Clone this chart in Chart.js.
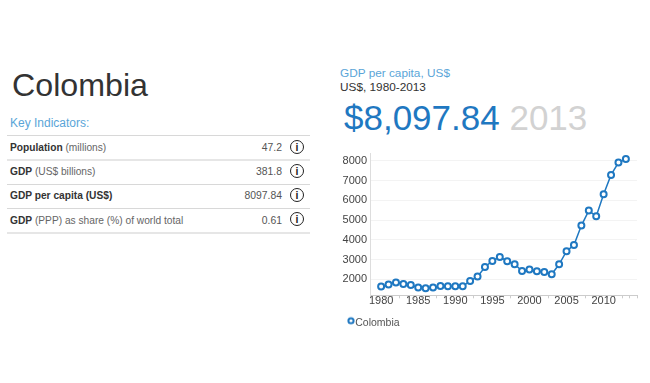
<!DOCTYPE html>
<html><head><meta charset="utf-8">
<style>
html,body{margin:0;padding:0;background:#fff;width:650px;height:383px;overflow:hidden;font-family:"Liberation Sans",Arial,sans-serif}
.t{position:absolute;white-space:nowrap}
.rule{position:absolute;left:7px;width:303px;background:#d8d8d8;height:1px}
.lab{position:absolute;left:10px;font-size:10.2px;line-height:14px;color:#666;white-space:nowrap}
.lab b{color:#333}
.val{position:absolute;right:368px;font-size:10.4px;line-height:14px;color:#555;white-space:nowrap}
.i{position:absolute;left:290px;width:12px;height:12px;border:1.5px solid #222;border-radius:50%;font:bold 10.5px/12px "Liberation Sans",sans-serif;text-align:center;color:#222}
#wrap{position:absolute;left:339px;top:141px;width:311px;height:197px}
</style>
<script src="https://cdn.jsdelivr.net/npm/chart.js@4"></script>
</head><body>
<div class="t" style="left:12px;top:66px;font-size:32.2px;line-height:38px;color:#333">Colombia</div>
<div class="t" style="left:10px;top:116px;font-size:12px;line-height:15px;color:#5aa5d8">Key Indicators:</div>
<div class="rule" style="top:135px"></div>
<div class="lab" style="top:141px"><b>Population</b> (millions)</div><div class="val" style="top:141px">47.2</div><div class="i" style="top:140px">i</div>
<div class="rule" style="top:159px;height:2px;background:#e6e6e6"></div>
<div class="lab" style="top:165px"><b>GDP</b> (US$ billions)</div><div class="val" style="top:165px">381.8</div><div class="i" style="top:164px">i</div>
<div class="rule" style="top:184px"></div>
<div class="lab" style="top:189px"><b>GDP per capita (US$)</b></div><div class="val" style="top:189px">8097.84</div><div class="i" style="top:188px">i</div>
<div class="rule" style="top:208px"></div>
<div class="lab" style="top:214px"><b>GDP</b> (PPP) as share (%) of world total</div><div class="val" style="top:214px">0.61</div><div class="i" style="top:212px">i</div>
<div class="rule" style="top:232px;height:2px;background:#e6e6e6"></div>
<div class="t" style="left:340px;top:66px;font-size:11.8px;line-height:14px;color:#5aa5d8">GDP per capita, US$</div>
<div class="t" style="left:340px;top:80px;font-size:11.8px;line-height:14px;color:#333">US$, 1980-2013</div>
<div class="t" style="left:344px;top:97px;font-size:35px;line-height:42px;color:#1f78c1">$8,097.84 <span style="color:#d2d2d2">2013</span></div>
<div id="wrap"><canvas id="c" width="311" height="197"></canvas></div>
<script>
const seriesName = "Colombia";
const years = [1980,1981,1982,1983,1984,1985,1986,1987,1988,1989,1990,1991,1992,1993,1994,1995,1996,1997,1998,1999,2000,2001,2002,2003,2004,2005,2006,2007,2008,2009,2010,2011,2012,2013];
const gdpPerCapita = [1628,1730,1830,1763,1713,1577,1544,1577,1662,1645,1645,1645,1915,2135,2625,2930,3130,2912,2760,2422,2490,2405,2372,2253,2760,3420,3740,4720,5480,5195,6310,7290,7915,8097.84];
const yTicks = [2000,3000,4000,5000,6000,7000,8000];
const axisCategories = [1979].concat(years,[2014]);
const blue = "#1f78c1";
const legendMarker = document.createElement("canvas");
legendMarker.width = 16; legendMarker.height = 16;
(function(){const g=legendMarker.getContext("2d");g.strokeStyle=blue;g.lineWidth=2;g.beginPath();g.arc(11,6,2.6,0,Math.PI*2);g.stroke();})();
new Chart(document.getElementById("c"),{
  type:"line",
  data:{labels:axisCategories.map(String),
    datasets:[{label:seriesName,data:years.map((y,i)=>({x:String(y),y:gdpPerCapita[i]})),
    borderColor:blue,borderWidth:1.5,backgroundColor:"#fff",pointStyle:"circle",pointRadius:3,pointBorderWidth:2,pointBorderColor:blue,pointBackgroundColor:"#fff",tension:0}]},
  options:{responsive:false,animation:false,
    layout:{padding:{left:0,right:13,top:12,bottom:0}},
    plugins:{tooltip:{enabled:false},
      legend:{position:"bottom",align:"start",labels:{usePointStyle:true,pointStyle:legendMarker,boxWidth:4,boxHeight:4,padding:7,color:"#555",font:{family:"Liberation Sans",size:10.5}}}},
    scales:{
      x:{type:"category",offset:true,
        grid:{display:true,offset:true,drawOnChartArea:false,drawTicks:true,tickLength:3,tickColor:"#ccc"},border:{color:"#ccc"},
        title:{display:true,text:"",font:{size:5,lineHeight:1},padding:1},
        ticks:{color:"#444",font:{family:"Liberation Sans",size:11},padding:-4,maxRotation:0,autoSkip:false,
          callback(v){const l=this.getLabelForValue(v);return (+l)%5===0&&years.includes(+l)?l:"";}}},
      y:{type:"linear",min:1187,max:8400,
        grid:{color:"#f3f3f3",drawTicks:false},border:{color:"#ddd"},
        afterBuildTicks(a){a.ticks=yTicks.map(v=>({value:v}));},
        afterFit(a){a.width=31;},
        ticks:{color:"#444",font:{family:"Liberation Sans",size:11},padding:3,callback:v=>String(v)}}
    }}
});
</script>
</body></html>
